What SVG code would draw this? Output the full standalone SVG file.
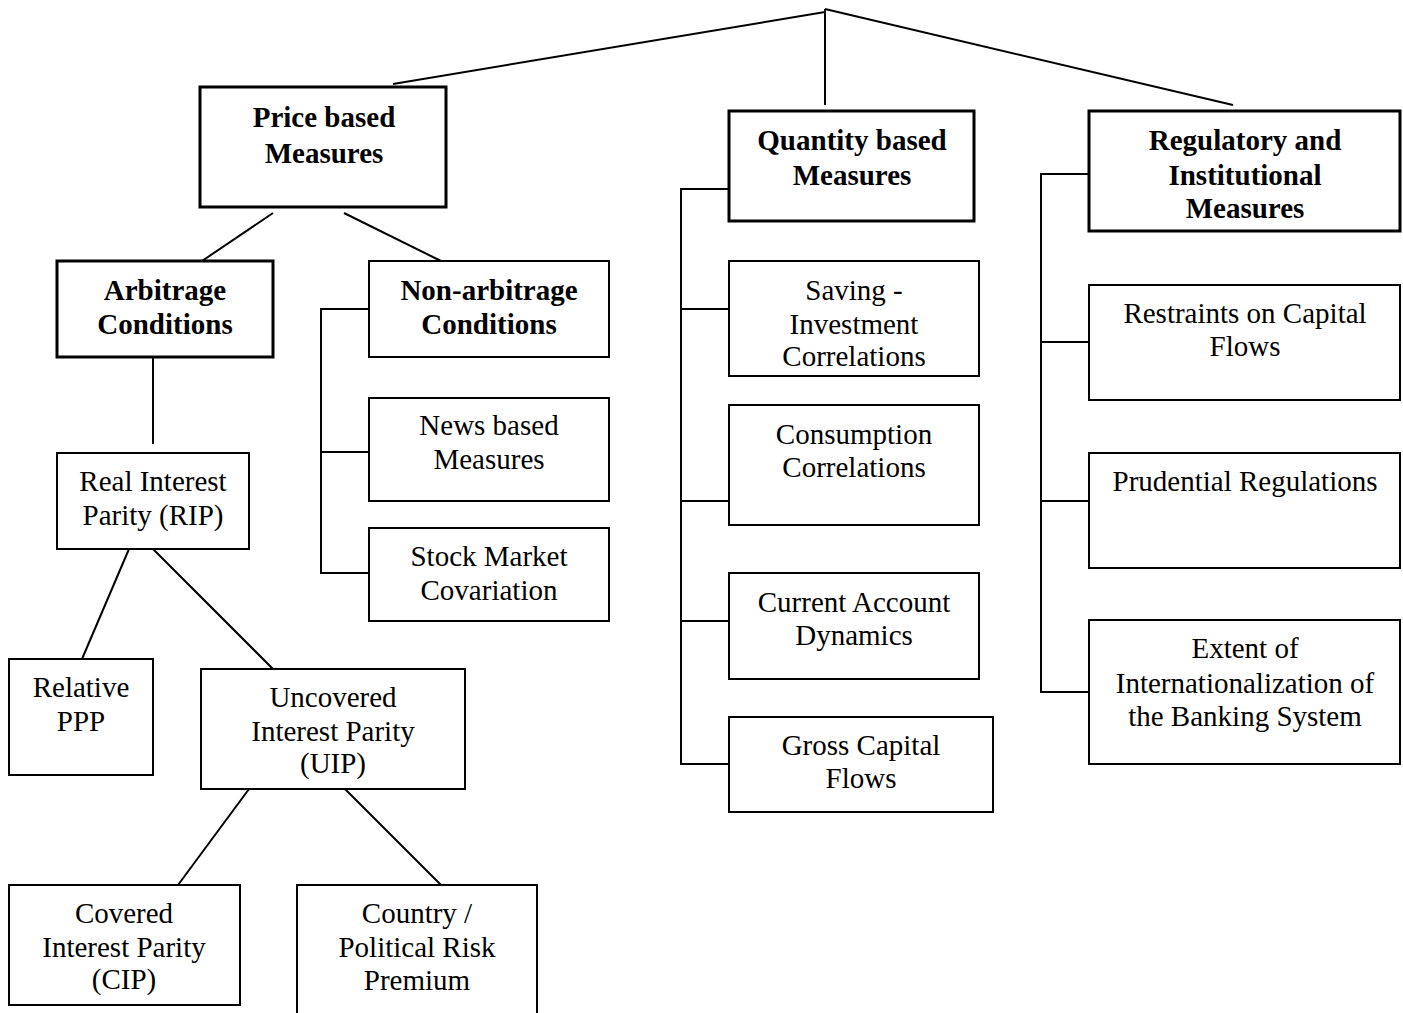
<svg xmlns="http://www.w3.org/2000/svg" width="1403" height="1013" viewBox="0 0 1403 1013">
<style>
  .box { fill: #fff; stroke: #000; stroke-width: 2; }
  .hbox { fill: #fff; stroke: #000; stroke-width: 3; }
  .t { font-family: "Liberation Serif", "Times New Roman", serif; font-size: 29px; fill: #000; text-anchor: middle; }
  .b { font-weight: bold; }
  .c { stroke: #000; stroke-width: 2; fill: none; }
</style>
<rect width="1403" height="1013" fill="#fff"/>
<g id="connectors">
  <line class="c" x1="825" y1="12" x2="393" y2="84"/>
  <line class="c" x1="825" y1="9" x2="1233" y2="105"/>
  <line class="c" x1="825" y1="9" x2="825" y2="105"/>
  <line class="c" x1="273" y1="213" x2="202" y2="261"/>
  <line class="c" x1="344" y1="213" x2="441" y2="261"/>
  <line class="c" x1="153" y1="357" x2="153" y2="444"/>
  <polyline class="c" points="369,309 321,309 321,573 369,573"/>
  <line class="c" x1="321" y1="452" x2="369" y2="452"/>
  <line class="c" x1="129" y1="549" x2="82" y2="659"/>
  <line class="c" x1="153" y1="549" x2="273" y2="669"/>
  <line class="c" x1="249" y1="789" x2="178" y2="885"/>
  <line class="c" x1="345" y1="789" x2="441" y2="885"/>
  <polyline class="c" points="728,189 681,189 681,764 728,764"/>
  <line class="c" x1="681" y1="309" x2="728" y2="309"/>
  <line class="c" x1="681" y1="501" x2="728" y2="501"/>
  <line class="c" x1="681" y1="621" x2="728" y2="621"/>
  <polyline class="c" points="1089,174 1041,174 1041,692 1089,692"/>
  <line class="c" x1="1041" y1="342" x2="1089" y2="342"/>
  <line class="c" x1="1041" y1="501" x2="1089" y2="501"/>
</g>
<g id="price">
  <rect class="hbox" x="200" y="87" width="246" height="120"/>
  <text class="t b" x="324" y="127">Price based</text>
  <text class="t b" x="324" y="163">Measures</text>
</g>
<g id="quantity">
  <rect class="hbox" x="729" y="111" width="245" height="110"/>
  <text class="t b" x="852" y="150">Quantity based</text>
  <text class="t b" x="852" y="185">Measures</text>
</g>
<g id="regulatory">
  <rect class="hbox" x="1089" y="111" width="311" height="120"/>
  <text class="t b" x="1245" y="150">Regulatory and</text>
  <text class="t b" x="1245" y="185">Institutional</text>
  <text class="t b" x="1245" y="218">Measures</text>
</g>
<g id="arbitrage">
  <rect class="hbox" x="57" y="261" width="216" height="96"/>
  <text class="t b" x="165" y="300">Arbitrage</text>
  <text class="t b" x="165" y="334">Conditions</text>
</g>
<g id="nonarbitrage">
  <rect class="box" x="369" y="261" width="240" height="96"/>
  <text class="t b" x="489" y="300">Non-arbitrage</text>
  <text class="t b" x="489" y="334">Conditions</text>
</g>
<g id="news">
  <rect class="box" x="369" y="398" width="240" height="103"/>
  <text class="t" x="489" y="435">News based</text>
  <text class="t" x="489" y="469">Measures</text>
</g>
<g id="stock">
  <rect class="box" x="369" y="528" width="240" height="93"/>
  <text class="t" x="489" y="566">Stock Market</text>
  <text class="t" x="489" y="600">Covariation</text>
</g>
<g id="rip">
  <rect class="box" x="57" y="453" width="192" height="96"/>
  <text class="t" x="153" y="491">Real Interest</text>
  <text class="t" x="153" y="525">Parity (RIP)</text>
</g>
<g id="relppp">
  <rect class="box" x="9" y="659" width="144" height="116"/>
  <text class="t" x="81" y="697">Relative</text>
  <text class="t" x="81" y="731">PPP</text>
</g>
<g id="uip">
  <rect class="box" x="201" y="669" width="264" height="120"/>
  <text class="t" x="333" y="707">Uncovered</text>
  <text class="t" x="333" y="741">Interest Parity</text>
  <text class="t" x="333" y="773">(UIP)</text>
</g>
<g id="cip">
  <rect class="box" x="9" y="885" width="231" height="120"/>
  <text class="t" x="124" y="923">Covered</text>
  <text class="t" x="124" y="957">Interest Parity</text>
  <text class="t" x="124" y="989">(CIP)</text>
</g>
<g id="country">
  <rect class="box" x="297" y="885" width="240" height="140"/>
  <text class="t" x="417" y="923">Country /</text>
  <text class="t" x="417" y="957">Political Risk</text>
  <text class="t" x="417" y="990">Premium</text>
</g>
<g id="saving">
  <rect class="box" x="729" y="261" width="250" height="115"/>
  <text class="t" x="854" y="300">Saving -</text>
  <text class="t" x="854" y="334">Investment</text>
  <text class="t" x="854" y="366">Correlations</text>
</g>
<g id="consumption">
  <rect class="box" x="729" y="405" width="250" height="120"/>
  <text class="t" x="854" y="444">Consumption</text>
  <text class="t" x="854" y="477">Correlations</text>
</g>
<g id="currentaccount">
  <rect class="box" x="729" y="573" width="250" height="106"/>
  <text class="t" x="854" y="612">Current Account</text>
  <text class="t" x="854" y="645">Dynamics</text>
</g>
<g id="grosscapital">
  <rect class="box" x="729" y="717" width="264" height="95"/>
  <text class="t" x="861" y="755">Gross Capital</text>
  <text class="t" x="861" y="788">Flows</text>
</g>
<g id="restraints">
  <rect class="box" x="1089" y="285" width="311" height="115"/>
  <text class="t" x="1245" y="323">Restraints on Capital</text>
  <text class="t" x="1245" y="356">Flows</text>
</g>
<g id="prudential">
  <rect class="box" x="1089" y="453" width="311" height="115"/>
  <text class="t" x="1245" y="491">Prudential Regulations</text>
</g>
<g id="extent">
  <rect class="box" x="1089" y="620" width="311" height="144"/>
  <text class="t" x="1245" y="658">Extent of</text>
  <text class="t" x="1245" y="693">Internationalization of</text>
  <text class="t" x="1245" y="726">the Banking System</text>
</g>
</svg>
